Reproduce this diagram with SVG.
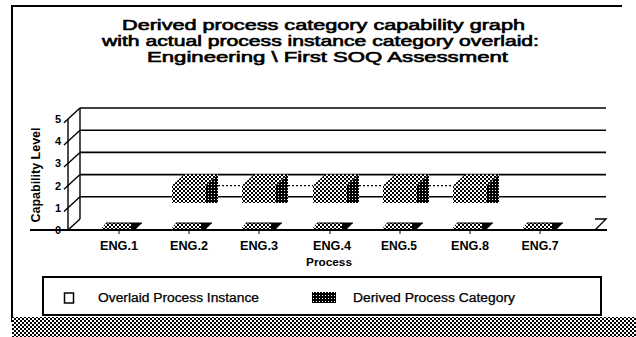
<svg xmlns="http://www.w3.org/2000/svg" width="636" height="337" viewBox="0 0 636 337">
  <defs>
    <!-- fine dither used for bar faces and the bottom band -->
    <pattern id="chk" width="4" height="4" patternUnits="userSpaceOnUse">
      <rect width="4" height="4" fill="#fff"/>
      <rect width="2" height="2" fill="#000"/>
      <rect x="2" y="2" width="2" height="2" fill="#000"/>
    </pattern>
    <!-- dark dither for the shaded side of each bar -->
    <pattern id="dark" width="3" height="3" patternUnits="userSpaceOnUse">
      <rect width="3" height="3" fill="#000"/>
      <rect x="1" y="1" width="1" height="1" fill="#fff"/>
    </pattern>
  </defs>
  <style>
    .title { font-family: "Liberation Sans", Arial, sans-serif; font-size: 14px; fill: #000; stroke: #000; stroke-width: 0.6; text-anchor: middle; }
    .lbl { font-family: "Liberation Sans", Arial, sans-serif; font-weight: bold; fill: #000; }
    .cat { font-size: 12px; text-anchor: middle; }
    .tick { font-size: 11px; text-anchor: end; }
    .leg { font-family: "Liberation Sans", Arial, sans-serif; font-size: 12px; fill: #000; stroke: #000; stroke-width: 0.25; }
    .grid { stroke: #000; stroke-width: 1.6; fill: none; }
    .axis { stroke: #000; stroke-width: 1.4; fill: none; }
    .dot { stroke: #000; stroke-width: 1.3; stroke-dasharray: 2 2; fill: none; }
  </style>

  <rect width="636" height="337" fill="#fff"/>

  <!-- page frame -->
  <g id="frame">
    <line x1="11" y1="6" x2="622" y2="6" stroke="#000" stroke-width="2"/>
    <line x1="12" y1="6" x2="12" y2="322" stroke="#000" stroke-width="2"/>
    <rect x="12" y="317" width="624" height="20" fill="url(#chk)"/>
  </g>

  <!-- title -->
  <g id="title">
    <text class="title" x="323.5" y="30" textLength="403" lengthAdjust="spacingAndGlyphs">Derived process category capability graph</text>
    <text class="title" x="320.5" y="46" textLength="437" lengthAdjust="spacingAndGlyphs">with actual process instance category overlaid:</text>
    <text class="title" x="327.5" y="62" textLength="361" lengthAdjust="spacingAndGlyphs">Engineering \ First SOQ Assessment</text>
  </g>

  <!-- chart walls, grid and axes -->
  <g id="axes">
    <line class="grid" x1="80" y1="108" x2="606" y2="108"/>
    <line class="grid" x1="80" y1="130.2" x2="606" y2="130.2"/>
    <line class="grid" x1="80" y1="152.4" x2="606" y2="152.4"/>
    <line class="grid" x1="80" y1="174.6" x2="606" y2="174.6"/>
    <line class="grid" x1="80" y1="196.8" x2="606" y2="196.8"/>
    <line class="axis" x1="80" y1="108" x2="80" y2="219"/>
    <line class="axis" x1="68" y1="119" x2="68" y2="230"/>
    <line class="axis" x1="68" y1="230" x2="80" y2="219"/>
    <line class="axis" x1="64" y1="211.5" x2="80" y2="196.8"/>
    <line class="axis" x1="64" y1="189.3" x2="80" y2="174.6"/>
    <line class="axis" x1="64" y1="167.1" x2="80" y2="152.4"/>
    <line class="axis" x1="64" y1="144.9" x2="80" y2="130.2"/>
    <line class="axis" x1="64" y1="122.7" x2="80" y2="108"/>
    <line x1="30" y1="230" x2="607" y2="230" stroke="#000" stroke-width="2.2"/>
    <polyline class="axis" points="595,219 606,219 595,230"/>
    <text class="lbl tick" x="61" y="234">0</text>
    <text class="lbl tick" x="61" y="211.8">1</text>
    <text class="lbl tick" x="61" y="189.6">2</text>
    <text class="lbl tick" x="61" y="167.4">3</text>
    <text class="lbl tick" x="61" y="145.2">4</text>
    <text class="lbl tick" x="61" y="123">5</text>
    <text class="lbl" font-size="12" text-anchor="middle" transform="translate(40,175) rotate(-90)" textLength="95" lengthAdjust="spacingAndGlyphs">Capability Level</text>
    <text class="lbl" font-size="11" text-anchor="middle" x="329" y="266" textLength="46" lengthAdjust="spacingAndGlyphs">Process</text>
  </g>

  <!-- overlaid process instance line -->
  <g id="connectors">
    <line class="dot" x1="218" y1="185.6" x2="242" y2="185.6"/>
    <line class="dot" x1="288" y1="185.6" x2="313" y2="185.6"/>
    <line class="dot" x1="359" y1="185.6" x2="383" y2="185.6"/>
    <line class="dot" x1="429" y1="185.6" x2="453" y2="185.6"/>
  </g>

  <!-- floor slabs (level 0) -->
  <g id="floor">
    <g id="slab-eng1" transform="translate(119,0)">
      <polygon points="-18,229 -13,223 12,223 12,229" fill="url(#chk)"/>
      <polygon points="12,223 23,223 17,229 12,229" fill="#000"/>
      <line x1="-13" y1="223" x2="23" y2="223" stroke="#000"/>
      <line x1="0" y1="230" x2="0" y2="234" stroke="#000"/>
    </g>
    <g id="slab-eng2" transform="translate(189,0)">
      <polygon points="-18,229 -13,223 12,223 12,229" fill="url(#chk)"/>
      <polygon points="12,223 23,223 17,229 12,229" fill="#000"/>
      <line x1="-13" y1="223" x2="23" y2="223" stroke="#000"/>
      <line x1="0" y1="230" x2="0" y2="234" stroke="#000"/>
    </g>
    <g id="slab-eng3" transform="translate(259,0)">
      <polygon points="-18,229 -13,223 12,223 12,229" fill="url(#chk)"/>
      <polygon points="12,223 23,223 17,229 12,229" fill="#000"/>
      <line x1="-13" y1="223" x2="23" y2="223" stroke="#000"/>
      <line x1="0" y1="230" x2="0" y2="234" stroke="#000"/>
    </g>
    <g id="slab-eng4" transform="translate(330,0)">
      <polygon points="-18,229 -13,223 12,223 12,229" fill="url(#chk)"/>
      <polygon points="12,223 23,223 17,229 12,229" fill="#000"/>
      <line x1="-13" y1="223" x2="23" y2="223" stroke="#000"/>
      <line x1="0" y1="230" x2="0" y2="234" stroke="#000"/>
    </g>
    <g id="slab-eng5" transform="translate(400,0)">
      <polygon points="-18,229 -13,223 12,223 12,229" fill="url(#chk)"/>
      <polygon points="12,223 23,223 17,229 12,229" fill="#000"/>
      <line x1="-13" y1="223" x2="23" y2="223" stroke="#000"/>
      <line x1="0" y1="230" x2="0" y2="234" stroke="#000"/>
    </g>
    <g id="slab-eng6" transform="translate(470,0)">
      <polygon points="-18,229 -13,223 12,223 12,229" fill="url(#chk)"/>
      <polygon points="12,223 23,223 17,229 12,229" fill="#000"/>
      <line x1="-13" y1="223" x2="23" y2="223" stroke="#000"/>
      <line x1="0" y1="230" x2="0" y2="234" stroke="#000"/>
    </g>
    <g id="slab-eng7" transform="translate(540,0)">
      <polygon points="-18,229 -13,223 12,223 12,229" fill="url(#chk)"/>
      <polygon points="12,223 23,223 17,229 12,229" fill="#000"/>
      <line x1="-13" y1="223" x2="23" y2="223" stroke="#000"/>
      <line x1="0" y1="230" x2="0" y2="234" stroke="#000"/>
    </g>
  </g>

  <!-- derived process category bars -->
  <g id="bars">
    <g id="bar-eng2" transform="translate(189,0)">
      <polygon points="-17,185.6 17,185.6 29,174.6 -5,174.6" fill="url(#chk)"/>
      <rect x="-17" y="185.6" width="34" height="17.4" fill="url(#chk)"/>
      <polygon points="17,185.6 29,174.6 29,203 17,203" fill="url(#dark)"/>
    </g>
    <g id="bar-eng3" transform="translate(259,0)">
      <polygon points="-17,185.6 17,185.6 29,174.6 -5,174.6" fill="url(#chk)"/>
      <rect x="-17" y="185.6" width="34" height="17.4" fill="url(#chk)"/>
      <polygon points="17,185.6 29,174.6 29,203 17,203" fill="url(#dark)"/>
    </g>
    <g id="bar-eng4" transform="translate(330,0)">
      <polygon points="-17,185.6 17,185.6 29,174.6 -5,174.6" fill="url(#chk)"/>
      <rect x="-17" y="185.6" width="34" height="17.4" fill="url(#chk)"/>
      <polygon points="17,185.6 29,174.6 29,203 17,203" fill="url(#dark)"/>
    </g>
    <g id="bar-eng5" transform="translate(400,0)">
      <polygon points="-17,185.6 17,185.6 29,174.6 -5,174.6" fill="url(#chk)"/>
      <rect x="-17" y="185.6" width="34" height="17.4" fill="url(#chk)"/>
      <polygon points="17,185.6 29,174.6 29,203 17,203" fill="url(#dark)"/>
    </g>
    <g id="bar-eng6" transform="translate(470,0)">
      <polygon points="-17,185.6 17,185.6 29,174.6 -5,174.6" fill="url(#chk)"/>
      <rect x="-17" y="185.6" width="34" height="17.4" fill="url(#chk)"/>
      <polygon points="17,185.6 29,174.6 29,203 17,203" fill="url(#dark)"/>
    </g>
  </g>

  <!-- category labels -->
  <g id="categories">
    <text class="lbl cat" x="119" y="250" textLength="38" lengthAdjust="spacingAndGlyphs">ENG.1</text>
    <text class="lbl cat" x="189" y="250" textLength="38" lengthAdjust="spacingAndGlyphs">ENG.2</text>
    <text class="lbl cat" x="259" y="250" textLength="38" lengthAdjust="spacingAndGlyphs">ENG.3</text>
    <text class="lbl cat" x="332" y="250" textLength="38" lengthAdjust="spacingAndGlyphs">ENG.4</text>
    <text class="lbl cat" x="399" y="250" textLength="36" lengthAdjust="spacingAndGlyphs">ENG.5</text>
    <text class="lbl cat" x="470" y="250" textLength="38" lengthAdjust="spacingAndGlyphs">ENG.8</text>
    <text class="lbl cat" x="540" y="250" textLength="37" lengthAdjust="spacingAndGlyphs">ENG.7</text>
  </g>

  <!-- legend -->
  <g id="legend">
    <rect x="43" y="277" width="558" height="38" fill="none" stroke="#000" stroke-width="2"/>
    <rect x="64.5" y="293" width="9" height="10" fill="#fff" stroke="#000" stroke-width="1.5"/>
    <text class="leg" x="98" y="302" textLength="161" lengthAdjust="spacingAndGlyphs">Overlaid Process Instance</text>
    <rect x="312" y="292" width="24" height="11" fill="url(#dark)"/>
    <text class="leg" x="353" y="302" textLength="162" lengthAdjust="spacingAndGlyphs">Derived Process Category</text>
  </g>
</svg>
